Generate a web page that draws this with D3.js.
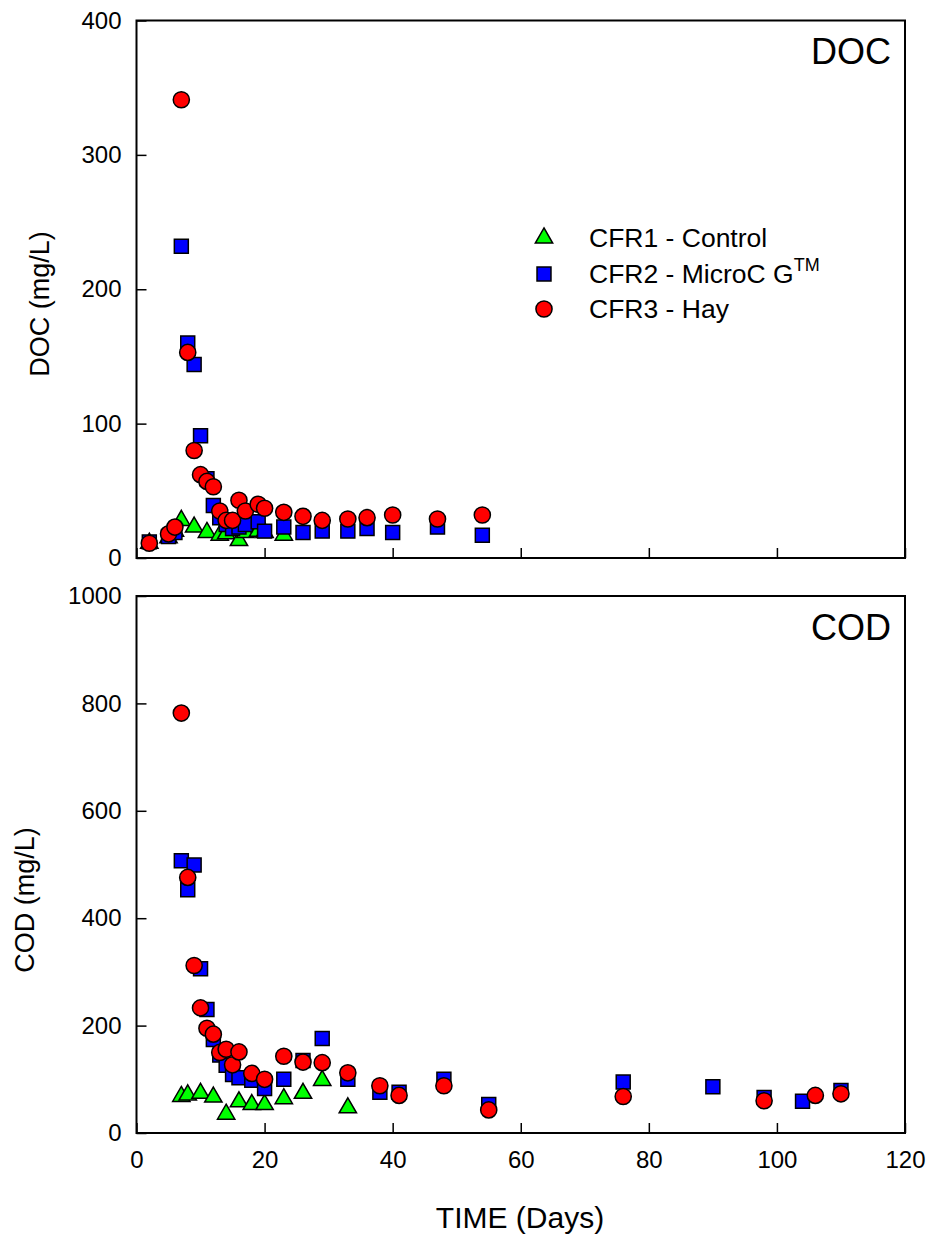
<!DOCTYPE html>
<html><head><meta charset="utf-8">
<script src="https://cdn.jsdelivr.net/npm/d3@7"></script>
<style>body{margin:0;background:#fff}text{font-family:"Liberation Sans",Arial,sans-serif;fill:#000}</style>
</head><body>
<svg id="c" width="933" height="1241"></svg>
<script>
// ---- data ----
const docControlDays = [2,5,6,7,9,11,13,14,16,17,19,20,23];
const docControlVals = [11,15,20,28,23,19,17,18,13,19,20,19,17];
const docMicroDays = [2,5,6,7,8,9,10,11,12,13,14,15,16,17,19,20,23,26,29,33,36,40,47,54];
const docMicroVals = [12,16,19,232,160,144,91,59,39,30,25,22,23,25,27,20,23,19,20,20,22,19,23,17];
const docHayDays = [2,5,6,7,8,9,10,11,12,13,14,15,16,17,19,20,23,26,29,33,36,40,47,54];
const docHayVals = [11,18,23,341,153,80,62,57,53,35,28,28,43,35,40,37,34,31,28,29,30,32,29,32];

const codControlDays = [7,8,10,12,14,16,18,20,23,26,29,33];
const codControlVals = [68,71,74,67,35,58,53,53,64,74,98,47];
const codMicroDays = [7,8,9,10,11,12,13,14,15,16,18,20,23,26,29,33,38,41,48,55,76,90,98,104,110];
const codMicroVals = [507,453,499,306,230,174,145,126,109,103,98,83,100,135,176,100,76,76,100,53,95,86,66,59,79];
const codHayDays = [7,8,9,10,11,12,13,14,15,16,18,20,23,26,29,33,38,41,48,55,76,98,106,110];
const codHayVals = [782,476,312,233,195,184,150,156,127,151,111,100,143,132,131,112,88,70,88,43,68,60,70,73];

const xTicks = [0,20,40,60,80,100,120];
const docTicks = [0,100,200,300,400];
const codTicks = [0,200,400,600,800,1000];
const legendLabels = ["CFR1 - Control","CFR2 - MicroC G","CFR3 - Hay"];

// ---- layout ----
const svg = d3.select("#c");
const X0 = 136.5, X1 = 905;
const x = d3.scaleLinear().domain([0,120]).range([X0,X1]);
const yDoc = d3.scaleLinear().domain([0,400]).range([558,20.5]);
const yCod = d3.scaleLinear().domain([0,1000]).range([1133,596]);
const fmt = d3.format("d");

const sym = {
  tri: d3.symbol().type(d3.symbolTriangle).size(130),
  sq: d3.symbol().type(d3.symbolSquare).size(195),
  circ: d3.symbol().type(d3.symbolCircle).size(205)
};
const colors = {tri:"#00ff00", sq:"#0000ff", circ:"#ff0000"};

function panel(y, ticks, showXLabels, series, label, labelY){
  const g = svg.append("g");
  g.append("rect").attr("x",X0).attr("y",y.range()[1]).attr("width",X1-X0)
    .attr("height",y.range()[0]-y.range()[1]).attr("fill","none").attr("stroke","#000").attr("stroke-width",2);
  const ya = g.append("g").attr("transform",`translate(${X0},0)`)
    .call(d3.axisLeft(y).tickValues(ticks).tickFormat(fmt).tickSizeInner(-10).tickSizeOuter(0).tickPadding(15));
  ya.select(".domain").remove();
  ya.selectAll("line").attr("stroke","#000").attr("stroke-width",1.5);
  ya.selectAll("text").style("font-size","24px").attr("font-family","Liberation Sans, Arial");
  const xa = g.append("g").attr("transform",`translate(0,${y.range()[0]})`)
    .call(d3.axisBottom(x).tickValues(xTicks).tickFormat(fmt).tickSizeInner(-10).tickSizeOuter(0).tickPadding(18));
  xa.select(".domain").remove();
  xa.selectAll("line").attr("stroke","#000").attr("stroke-width",1.5);
  xa.selectAll("text").style("font-size","24px").attr("font-family","Liberation Sans, Arial");
  if(!showXLabels) xa.selectAll("text").remove();
  series.forEach(s=>{
    g.append("g").selectAll("path").data(s.days.map((d,i)=>[d,s.vals[i]])).join("path")
      .attr("transform",d=>`translate(${x(d[0])},${y(d[1])})`)
      .attr("d",sym[s.shape]).attr("fill",colors[s.shape]).attr("stroke","#000").attr("stroke-width",1.5);
  });
  g.append("text").attr("x",891).attr("y",labelY).attr("text-anchor","end")
    .style("font-size","36px").text(label);
}

panel(yDoc, docTicks, false, [
  {days:docControlDays, vals:docControlVals, shape:"tri"},
  {days:docMicroDays, vals:docMicroVals, shape:"sq"},
  {days:docHayDays, vals:docHayVals, shape:"circ"}
], "DOC", 64);
panel(yCod, codTicks, true, [
  {days:codControlDays, vals:codControlVals, shape:"tri"},
  {days:codMicroDays, vals:codMicroVals, shape:"sq"},
  {days:codHayDays, vals:codHayVals, shape:"circ"}
], "COD", 640);

// axis titles
svg.append("text").attr("transform","translate(49,304) rotate(-90)").attr("text-anchor","middle")
  .style("font-size","27px").text("DOC (mg/L)");
svg.append("text").attr("transform","translate(34,900) rotate(-90)").attr("text-anchor","middle")
  .style("font-size","27px").text("COD (mg/L)");
svg.append("text").attr("x",520).attr("y",1228).attr("text-anchor","middle")
  .style("font-size","30px").text("TIME (Days)");

// legend
const lg = svg.append("g");
const shapes = ["tri","sq","circ"];
const ly = [238, 274, 309];
shapes.forEach((s,i)=>{
  lg.append("path").attr("transform",`translate(544,${ly[i]})`).attr("d",sym[s])
    .attr("fill",colors[s]).attr("stroke","#000").attr("stroke-width",1.5);
  const t = lg.append("text").attr("x",589).attr("y",ly[i]+9).style("font-size","26.5px").text(legendLabels[i]);
  if(s==="sq") t.append("tspan").attr("dy",-12).style("font-size","18px").text("TM");
});
</script>
</body></html>
